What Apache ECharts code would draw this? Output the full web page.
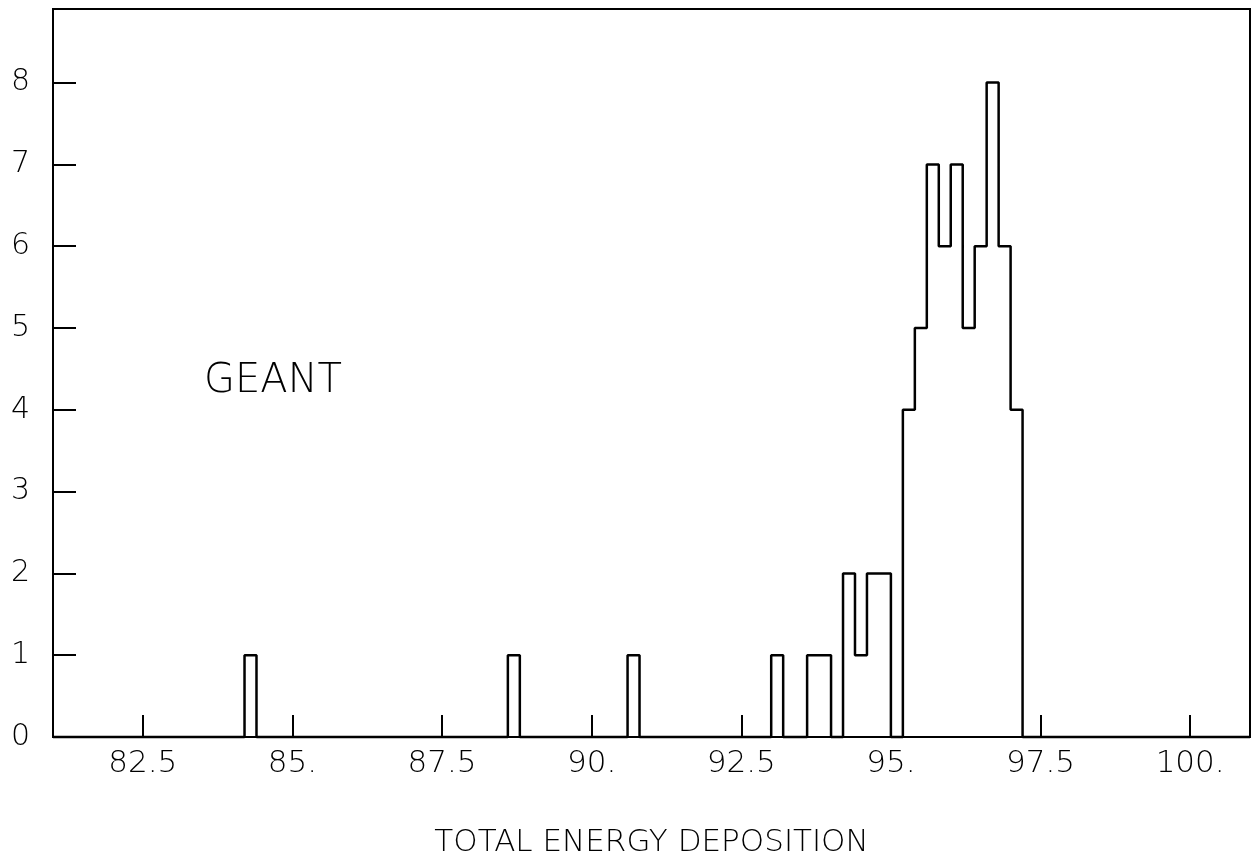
<!DOCTYPE html>
<html>
<head>
<meta charset="utf-8">
<script src="https://cdn.jsdelivr.net/npm/echarts@6/dist/echarts.min.js"></script>
<style>
html,body{margin:0;padding:0;background:#fff;}
#chart{width:1259px;height:864px;}
</style>
</head>
<body>
<div id="chart"></div>
<script>
// ---- data ----
const xRange = [81, 101];
const binWidth = 0.2;
const binLow = [84.2, 88.6, 90.6, 93.0, 93.6, 93.8, 94.2, 94.4, 94.6, 94.8, 95.2, 95.4, 95.6, 95.8, 96.0, 96.2, 96.4, 96.6, 96.8, 97.0];
const counts = [1, 1, 1, 1, 1, 1, 2, 1, 2, 2, 4, 5, 7, 6, 7, 5, 6, 8, 6, 4];
const xTicks = [82.5, 85, 87.5, 90, 92.5, 95, 97.5, 100];
const xTickLabels = ['82.5', '85.', '87.5', '90.', '92.5', '95.', '97.5', '100.'];
const yTicks = [0, 1, 2, 3, 4, 5, 6, 7, 8];
const yTickLabels = ['0', '1', '2', '3', '4', '5', '6', '7', '8'];
const yMax = 8.9;
const xTitle = 'TOTAL ENERGY DEPOSITION';
const plotLabel = 'GEANT';

// ---- build histogram (all bins, zeros where empty) ----
const nBins = Math.round((xRange[1] - xRange[0]) / binWidth);
const full = new Array(nBins).fill(0);
binLow.forEach((lo, i) => {
  const idx = Math.round((lo - xRange[0]) / binWidth);
  full[idx] = counts[i];
});
const stepData = full.map((c, i) => [+(xRange[0] + i * binWidth).toFixed(4), c]);
stepData.push([xRange[1], 0]);

const font = '"DejaVu Sans", sans-serif';
const fw = 200;
const chart = echarts.init(document.getElementById('chart'), null, {renderer: 'canvas'});
chart.setOption({
  animation: false,
  backgroundColor: '#fff',
  grid: {left: 53, right: 9, top: 9, bottom: 127, outerBoundsMode: 'none', containLabel: false,
    show: true, borderColor: '#000', borderWidth: 2, backgroundColor: 'transparent'},
  xAxis: {
    type: 'value', min: xRange[0], max: xRange[1],
    name: xTitle, nameLocation: 'middle', nameGap: 90,
    nameTextStyle: {fontFamily: font, fontWeight: fw, fontSize: 31, color: '#000'},
    axisLine: {show: true, lineStyle: {color: '#000', width: 2}},
    axisTick: {show: true, inside: true, length: 22, customValues: xTicks, lineStyle: {color: '#000', width: 2}},
    axisLabel: {show: true, customValues: xTicks, margin: 11, fontFamily: font, fontWeight: fw, fontSize: 31, color: '#000',
      formatter: v => { const i = xTicks.indexOf(v); return i >= 0 ? xTickLabels[i] : ''; }},
    splitLine: {show: false}
  },
  yAxis: {
    type: 'value', min: 0, max: yMax,
    axisLine: {show: true, lineStyle: {color: '#000', width: 2}},
    axisTick: {show: true, inside: true, length: 23, customValues: yTicks, lineStyle: {color: '#000', width: 2}},
    axisLabel: {show: true, customValues: yTicks, margin: 23, fontFamily: font, fontWeight: fw, fontSize: 30, color: '#000',
      formatter: v => { const i = yTicks.indexOf(v); return i >= 0 ? yTickLabels[i] : ''; }},
    splitLine: {show: false}
  },
  graphic: [{
    type: 'text', left: 204, top: 362,
    style: {text: plotLabel, font: fw + ' 40px ' + font, fill: '#000'}
  }],
  series: [{
    type: 'line', step: 'end', data: stepData, showSymbol: false, symbol: 'none',
    lineStyle: {color: '#000', width: 2.5}, z: 5, clip: false
  }]
});
</script>
</body>
</html>
